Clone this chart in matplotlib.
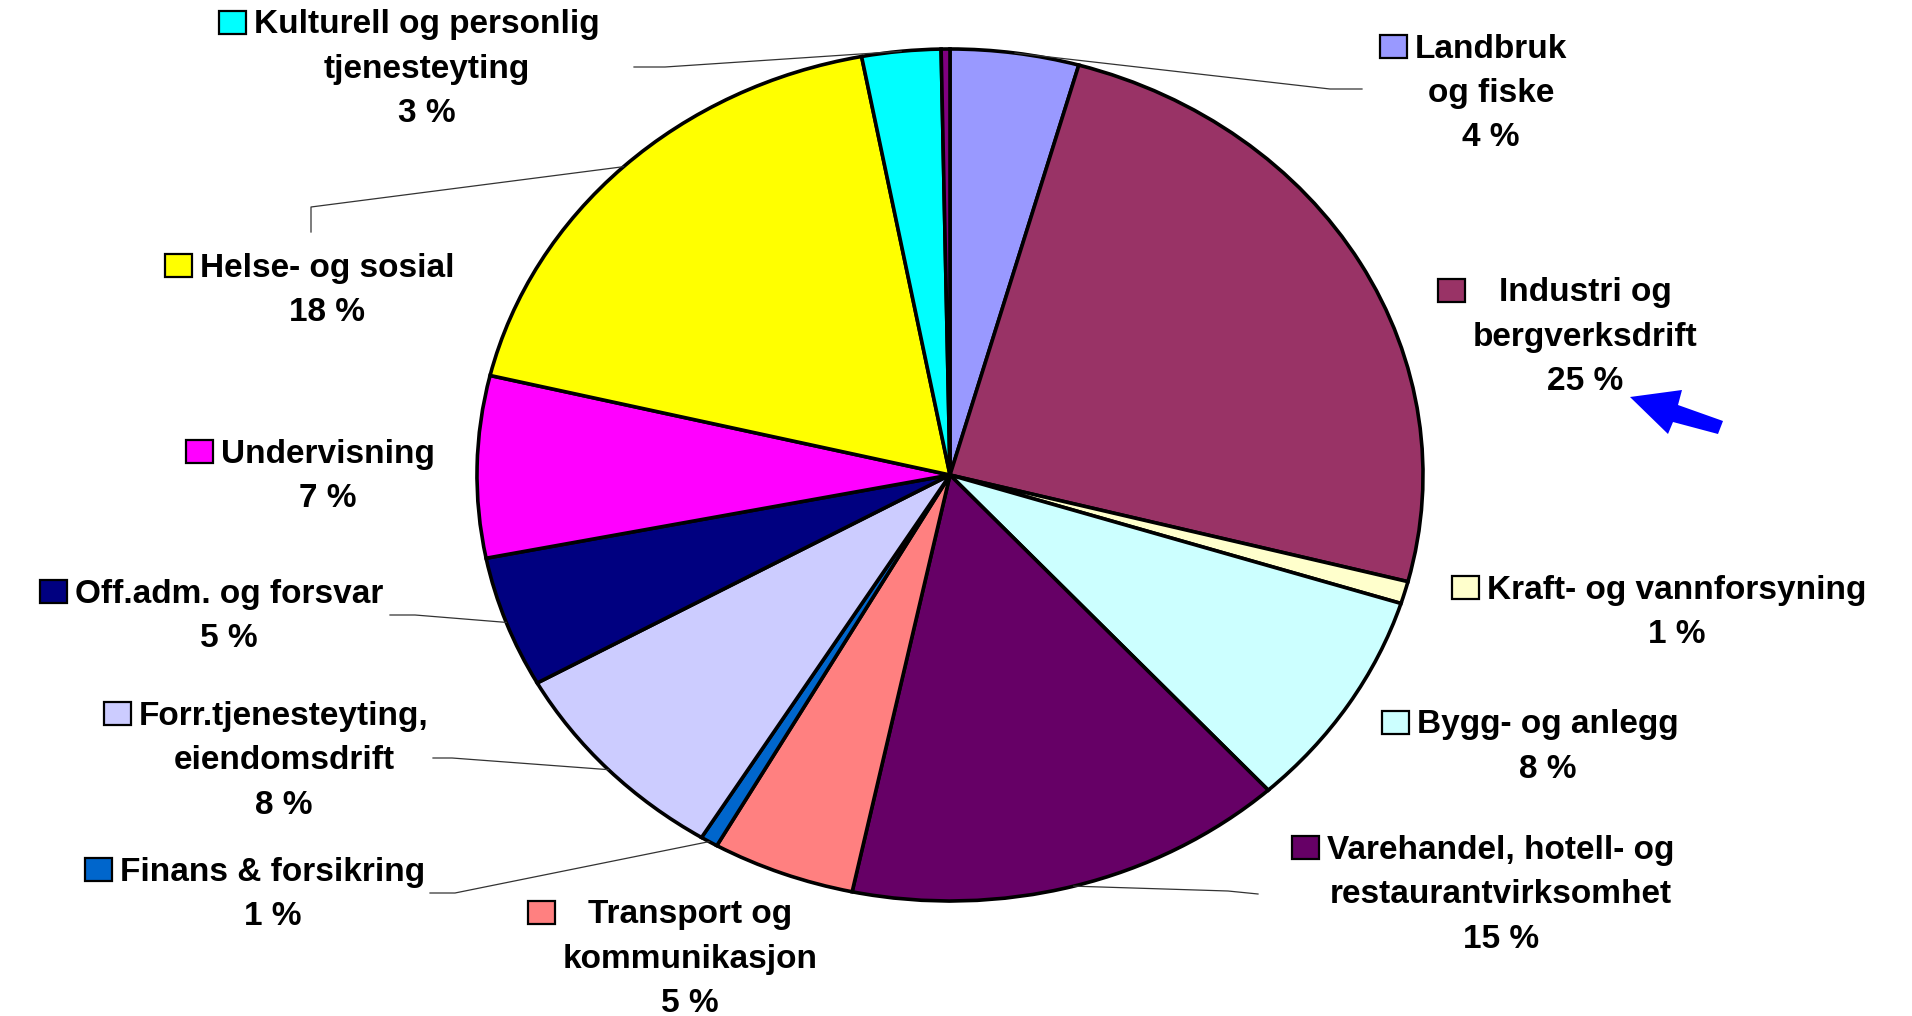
import matplotlib
matplotlib.use('Agg')
import numpy as np
import matplotlib.pyplot as plt
import matplotlib.transforms as mtransforms
from matplotlib.patches import Rectangle, Polygon

# andel sysselsatte etter næring (lest av figuren, i prosent)
names = ['Landbruk\nog fiske', 'Industri og\nbergverksdrift', 'Kraft- og vannforsyning',
         'Bygg- og anlegg', 'Varehandel, hotell- og\nrestaurantvirksomhet',
         'Transport og\nkommunikasjon', 'Finans & forsikring',
         'Forr.tjenesteyting,\neiendomsdrift', 'Off.adm. og forsvar', 'Undervisning',
         'Helse- og sosial', 'Kulturell og personlig\ntjenesteyting', '']
values = [4.4, 24.7, 0.85, 8.4, 15.1, 4.9, 0.6, 8.1, 5.0, 6.9, 18.3, 2.7, 0.3]
colors = ['#9999FF', '#993366', '#FFFFCC', '#CCFFFF', '#660066', '#FF8080', '#0066CC',
          '#CCCCFF', '#000080', '#FF00FF', '#FFFF00', '#00FFFF', '#800080']

# label placement (pixels, top-left origin): text centre x, first line y
label_xy = [(1491, 46), (1585, 290), (1677, 587), (1548, 722), (1501, 847), (690, 912),
            (273, 869), (284, 713), (229, 591), (328, 451), (327, 265), (427, 22), None]
# leader lines: start and elbow points, end goes to the slice edge
leaders = {0: [(1362, 89), (1330, 89)],
           4: [(1258, 894), (1228, 891)],
           6: [(430, 893), (455, 893)],
           7: [(433, 758), (452, 758)],
           8: [(390, 615), (415, 615)],
           10: [(311, 232), (311, 207)],
           11: [(634, 67), (665, 67)]}

W, H = 1912, 1016
cx, cy, a, b = 950, 475, 473, 426
LS, CAP = 44.5, 23
FS = 24

fig = plt.figure(figsize=(W / 100, H / 100), dpi=100)
ax = fig.add_axes([0, 0, 1, 1])
wedges, _ = ax.pie(values, colors=colors, startangle=90, counterclock=False,
                   wedgeprops=dict(edgecolor='black', linewidth=2.6))
ax.set_aspect('auto')
ax.set_xlim(-cx / a, (W - cx) / a)
ax.set_ylim(-(H - cy) / b, cy / b)
ax.axis('off')

px = mtransforms.Affine2D().scale(1, -1).translate(0, H) + mtransforms.IdentityTransform()
total = sum(values)
renderer = fig.canvas.get_renderer()

for i, w in enumerate(wedges):
    if label_xy[i] is None:
        continue
    x0, y0 = label_xy[i]
    lines = names[i].split('\n') + ['%d %%' % round(values[i] / total * 100)]
    texts = []
    for k, line in enumerate(lines):
        t = ax.text(x0, y0 + k * LS + CAP / 2, line, transform=px, ha='center',
                    va='baseline', fontsize=FS, fontweight='bold', family='Liberation Sans')
        texts.append(t)
    left = min(t.get_window_extent(renderer).x0 for t in texts[:-1])
    mw, mh = 27, 23
    ax.add_patch(Rectangle((left - 8 - mw, y0 - mh / 2), mw, mh, transform=px,
                           facecolor=colors[i], edgecolor='black', linewidth=1.6,
                           clip_on=False))
    if i in leaders:
        th = np.deg2rad((w.theta1 + w.theta2) / 2)
        end = (cx + a * np.cos(th), cy - b * np.sin(th))
        pts = leaders[i] + [end]
        ax.plot([p[0] for p in pts], [p[1] for p in pts], transform=px,
                color='#333333', lw=0.9, clip_on=False)

# blå pil mot industri
arrow = [(1630, 397), (1682, 390), (1678, 405), (1723, 421), (1718, 434),
         (1673, 422), (1668, 434)]
ax.add_patch(Polygon(arrow, closed=True, transform=px, facecolor='#0000FF',
                     edgecolor='none', clip_on=False))

fig.savefig('out.png', dpi=100, facecolor='white')
